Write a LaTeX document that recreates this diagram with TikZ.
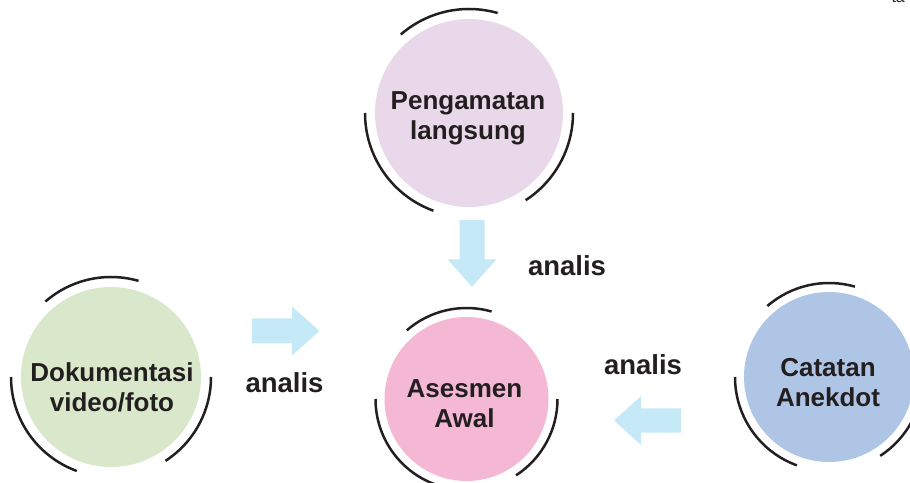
\documentclass[tikz,border=0pt]{standalone}
\usepackage{fontspec}
\setmainfont{Liberation Sans}
\definecolor{inkc}{HTML}{231F20}
\definecolor{lavc}{HTML}{E8D8EA}
\definecolor{grnc}{HTML}{D9E8CB}
\definecolor{pnkc}{HTML}{F4B7D4}
\definecolor{bluc}{HTML}{AEC5E5}
\definecolor{arrc}{HTML}{C6E9F8}
\tikzset{
  blob/.style={circle, inner sep=0pt, minimum size=#1},
  ctext/.style={anchor=base, align=center, text=inkc, font=\fontsize{26}{30}\selectfont\bfseries},
  lbl/.style={anchor=base, text=inkc, font=\fontsize{27.5}{30}\selectfont\bfseries},
  ring/.style={draw=inkc, line width=2.5pt},
  blockarrow/.style={fill=arrc}
}
\begin{document}
\begin{tikzpicture}[x=1pt,y=1pt]
\useasboundingbox (0,0) rectangle (910,482);
% circles
\node[blob=188pt, fill=lavc] (P) at (469,369) {};
\node[blob=180pt, fill=grnc] (D) at (111,105) {};
\node[blob=164pt, fill=pnkc] (A) at (466.5,83) {};
\node[blob=170pt, fill=bluc] (C) at (829,105) {};
% rings
\foreach \n/\R in {P/104, D/100, A/91, C/94}{
  \draw[ring] ([shift={(74:\R pt)}]\n.center) arc[start angle=74, end angle=131, radius=\R pt];
  \draw[ring] ([shift={(180:\R pt)}]\n.center) arc[start angle=180, end angle=250, radius=\R pt];
  \draw[ring] ([shift={(-57:\R pt)}]\n.center) arc[start angle=-57, end angle=0, radius=\R pt];
}
% texts (anchor base = baseline of the last line)
\node[ctext] (Pt) at (468,342.7) {Pengamatan\\langsung};
\node[ctext] (Dt) at (112,70.3) {Dokumentasi\\video/foto};
\node[ctext] (At) at (464.5,54.7) {Asesmen\\Awal};
\node[ctext] (Ct) at (828,75.3) {Catatan\\Anekdot};
% block arrows
\fill[blockarrow] (459.5,262) -- (484.5,262) -- (484.5,222.7) -- (496.5,222.7) -- (472,195.3) -- (447.5,222.7) -- (459.5,222.7) -- cycle;
\fill[blockarrow] (252,163.5) -- (292,163.5) -- (292,175.5) -- (319.5,151) -- (292,126.5) -- (292,138.5) -- (252,138.5) -- cycle;
\fill[blockarrow] (681,73.5) -- (641,73.5) -- (641,86) -- (614,61.5) -- (641,37) -- (641,49.5) -- (681,49.5) -- cycle;
% labels
\node[lbl] (L1) at (567,206) {analis};
\node[lbl] (L2) at (284.5,89.3) {analis};
\node[lbl] (L3) at (643,107.7) {analis};
\node[anchor=base west, text=inkc, font=\fontsize{16}{18}\selectfont] (T) at (888,479) {ta};
\end{tikzpicture}
\end{document}
